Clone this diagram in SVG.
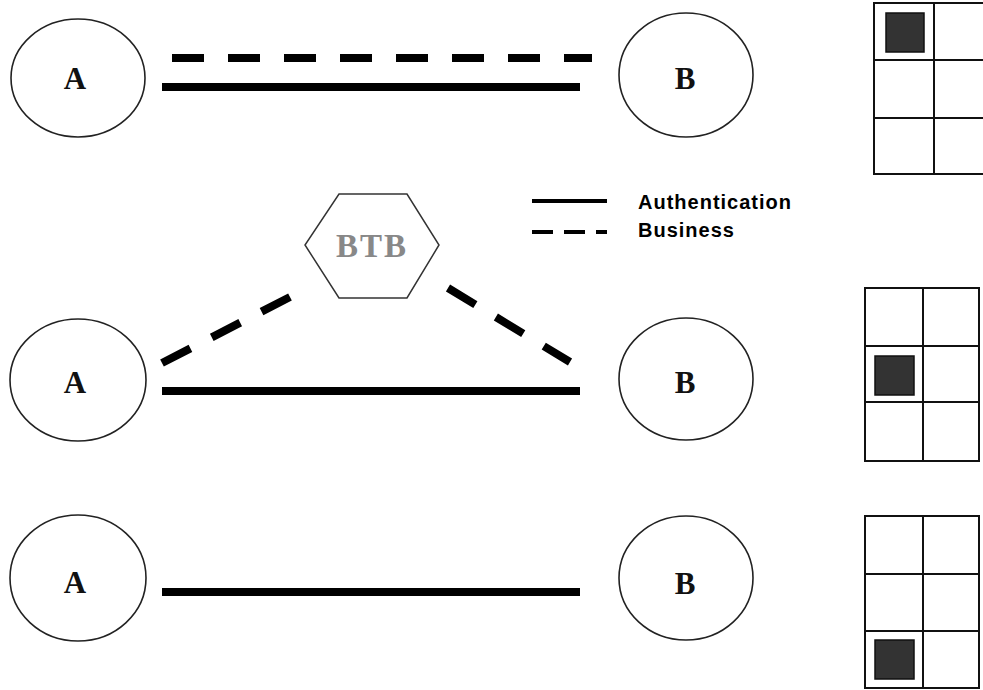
<svg xmlns="http://www.w3.org/2000/svg" width="983" height="690" viewBox="0 0 983 690">
<style>
.node{fill:#fff;stroke:#222;stroke-width:1.6}
.lbl{font-family:"Liberation Serif",serif;font-weight:bold;font-size:31px;fill:#111;text-anchor:middle}
.auth{stroke:#000;stroke-width:8;fill:none}
.biz{stroke:#000;stroke-width:8;fill:none;stroke-dasharray:32 24}
.grid{fill:none;stroke:#111;stroke-width:2}
.mark{fill:#333;stroke:#111;stroke-width:1.5}
.leg{font-family:"Liberation Sans",Arial,sans-serif;font-weight:bold;font-size:20px;letter-spacing:1px;fill:#000}
</style>
<rect width="983" height="690" fill="#fff"/>
<g id="connectors">
<line class="biz" x1="172" y1="58" x2="592" y2="58"/>
<line class="auth" x1="162" y1="87" x2="580" y2="87"/>
<line class="biz" x1="162" y1="363" x2="290" y2="297"/>
<line class="biz" x1="448" y1="288" x2="570" y2="362"/>
<line class="auth" x1="162" y1="391" x2="580" y2="391"/>
<line class="auth" x1="162" y1="592" x2="580" y2="592"/>
</g>
<g id="A1"><ellipse class="node" cx="78" cy="78" rx="67" ry="59"/><text class="lbl" x="75" y="89">A</text></g>
<g id="B1"><ellipse class="node" cx="686" cy="75" rx="67" ry="62"/><text class="lbl" x="685" y="89">B</text></g>
<g id="A2"><ellipse class="node" cx="78" cy="380" rx="68" ry="61"/><text class="lbl" x="75" y="393">A</text></g>
<g id="B2"><ellipse class="node" cx="686" cy="379" rx="67" ry="61"/><text class="lbl" x="685" y="393">B</text></g>
<g id="A3"><ellipse class="node" cx="78" cy="578" rx="68" ry="63"/><text class="lbl" x="75" y="593">A</text></g>
<g id="B3"><ellipse class="node" cx="686" cy="578" rx="67" ry="62"/><text class="lbl" x="685" y="594">B</text></g>
<g id="BTB">
<polygon points="339,194 407,194 439,245 407,298 339,298 305,245" fill="#fff" stroke="#333" stroke-width="1.5"/>
<text x="372" y="257" font-family="Liberation Serif,serif" font-weight="bold" font-size="33" letter-spacing="2" fill="#888" text-anchor="middle">BTB</text>
</g>
<g id="legend">
<line x1="532" y1="201" x2="607" y2="201" stroke="#000" stroke-width="4"/>
<line x1="532" y1="232" x2="607" y2="232" stroke="#000" stroke-width="4" stroke-dasharray="21 11"/>
<text class="leg" x="638" y="209">Authentication</text>
<text class="leg" x="638" y="237">Business</text>
</g>
<g id="grid1">
<rect class="grid" x="874" y="3" width="120" height="171"/>
<line class="grid" x1="934" y1="3" x2="934" y2="174"/>
<line class="grid" x1="874" y1="60" x2="994" y2="60"/>
<line class="grid" x1="874" y1="118" x2="994" y2="118"/>
<rect class="mark" x="886" y="13" width="38" height="39"/>
</g>
<g id="grid2">
<rect class="grid" x="865" y="288" width="114" height="173"/>
<line class="grid" x1="923" y1="288" x2="923" y2="461"/>
<line class="grid" x1="865" y1="346" x2="979" y2="346"/>
<line class="grid" x1="865" y1="402" x2="979" y2="402"/>
<rect class="mark" x="875" y="356" width="39" height="39"/>
</g>
<g id="grid3">
<rect class="grid" x="865" y="516" width="114" height="172"/>
<line class="grid" x1="923" y1="516" x2="923" y2="688"/>
<line class="grid" x1="865" y1="574" x2="979" y2="574"/>
<line class="grid" x1="865" y1="631" x2="979" y2="631"/>
<rect class="mark" x="875" y="640" width="39" height="39"/>
</g>
</svg>
